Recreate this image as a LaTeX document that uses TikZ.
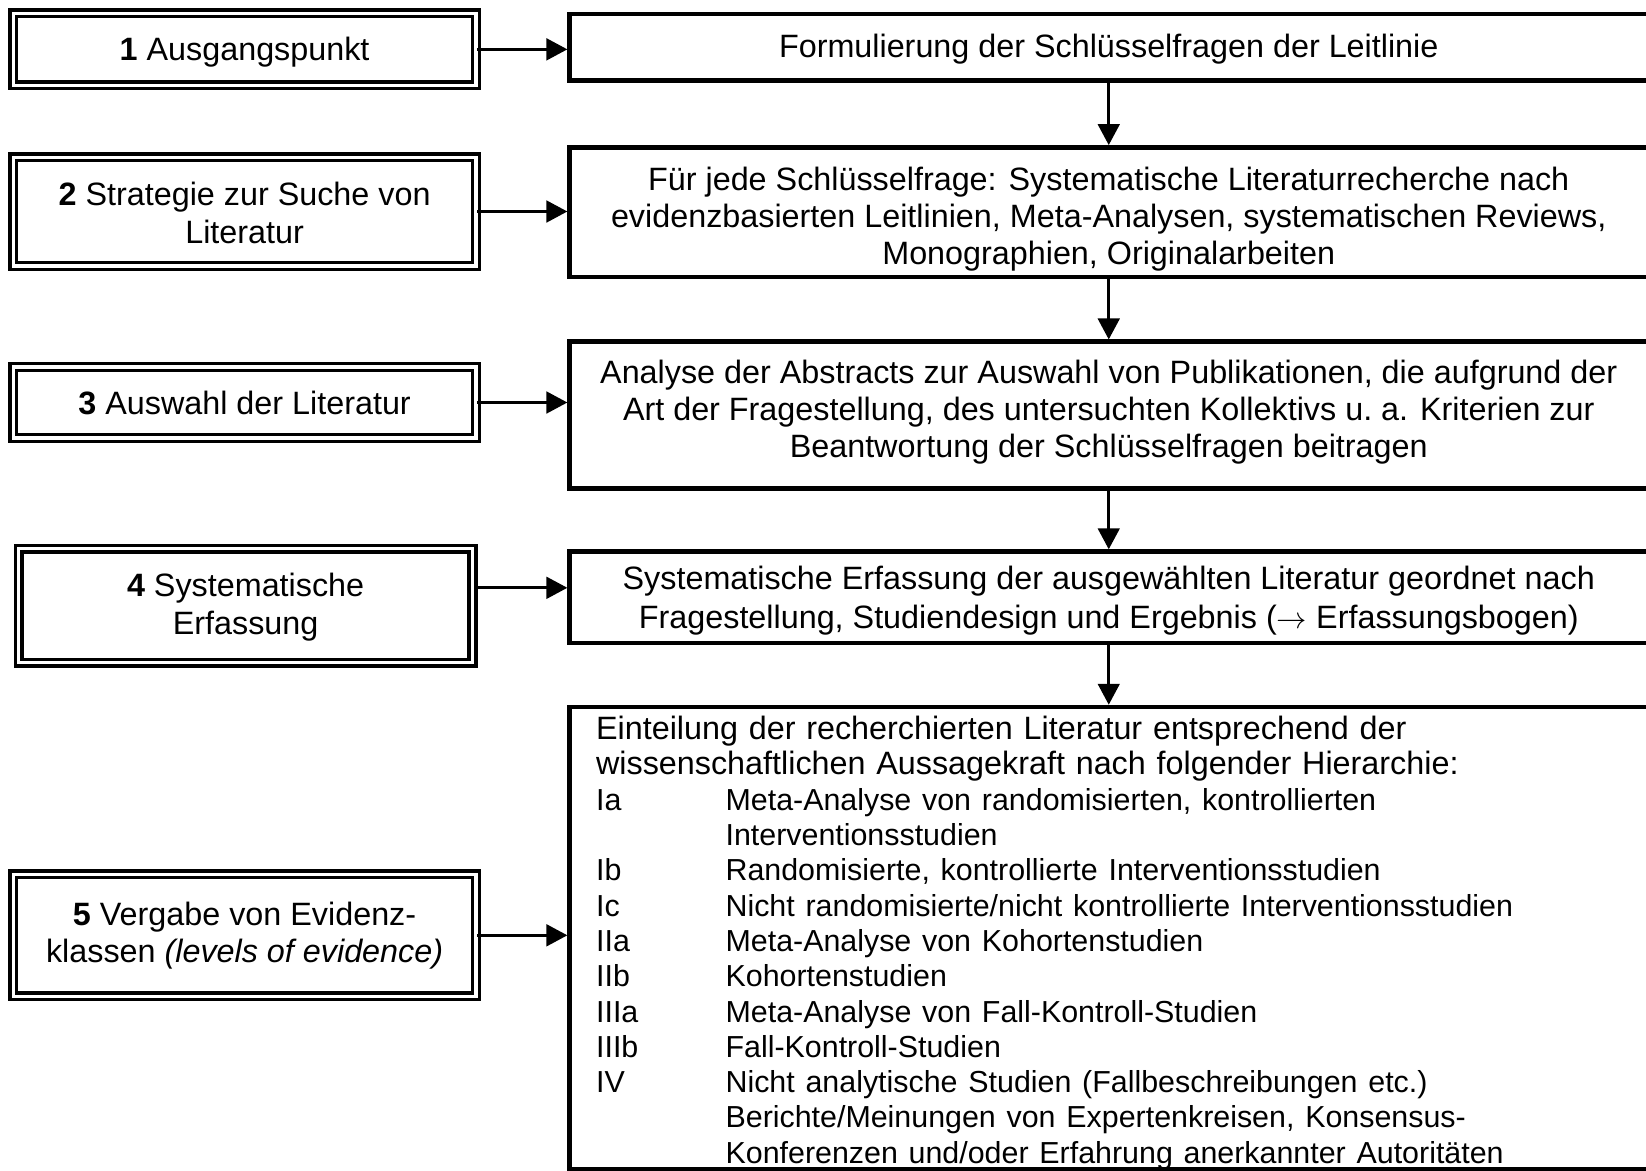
\documentclass[tikz,border=0pt]{standalone}
\usepackage{fontspec}
\setmainfont{Liberation Sans}
\usetikzlibrary{arrows.meta}

\newcommand{\lvl}[2]{\makebox[2.59cm][l]{#1}#2}
\newcommand{\oben}[1]{\rule{0pt}{#1}}
\newcommand{\unten}[1]{\rule[-#1]{0pt}{#1}}
\newcommand{\klein}{\fontsize{17.3}{20.1}\selectfont}

\begin{document}
\begin{tikzpicture}[x=0.02cm,y=-0.02cm,
    font=\fontsize{18.4}{21}\selectfont,
    stufe/.style={draw,line width=1.9pt,double,double distance=2pt,inner sep=0pt,
        align=center,minimum width=9.25cm},
    schritt/.style={draw,line width=2.5pt,inner sep=0pt,align=center,minimum width=21.57cm},
    pfeil/.style={-{Triangle[length=0.42cm,width=0.43cm]},line width=1.9pt}]
    \useasboundingbox (0,0) rectangle (1646,1170);

    % Arbeitsschritte links
    \node[stufe,minimum height=1.44cm] (b1) at (244.6,49.35) {\oben{17pt}\textbf{1} Ausgangspunkt};
    \node[stufe,minimum height=2.17cm,font=\fontsize{18.4}{21.5}\selectfont] (b2) at (244.6,211.5)
        {\oben{15.2pt}\textbf{2} Strategie zur Suche von\\Literatur};
    \node[stufe,minimum height=1.42cm] (b3) at (244.6,402.5) {\textbf{3} Auswahl der Literatur};
    \node[stufe,minimum width=9.08cm,minimum height=2.28cm,font=\fontsize{18.4}{21.5}\selectfont] (b4) at (245.6,605.6)
        {\oben{15.2pt}\textbf{4} Systematische\\Erfassung};
    \node[stufe,minimum height=2.44cm] (b5) at (244.6,935.3) {\textbf{5} Vergabe von Evidenz-\\klassen \textit{(levels of evidence)}};

    % Inhalte rechts
    \node[schritt,minimum height=1.33cm] (r1) at (1108.75,47.25) {\oben{15.8pt}Formulierung der Schlüsselfragen der Leitlinie};
    \node[schritt,minimum height=2.59cm,font=\fontsize{18.4}{20.8}\selectfont] (r2) at (1108.75,212.05)
        {\oben{21.4pt}Für jede Schlüsselfrage: Systematische Literaturrecherche nach\\evidenzbasierten Leitlinien, Meta-Analysen, systematischen Reviews,\\Monographien, Originalarbeiten};
    \node[schritt,minimum height=2.94cm] (r3) at (1108.75,415.15)
        {Analyse der Abstracts zur Auswahl von Publikationen, die aufgrund der\\Art der Fragestellung, des untersuchten Kollektivs u.~a. Kriterien zur\\Beantwortung der Schlüsselfragen beitragen\unten{6.9pt}};
    \node[schritt,minimum height=1.83cm,font=\fontsize{18.4}{22.1}\selectfont] (r4) at (1108.75,597.25)
        {\oben{17pt}Systematische Erfassung der ausgewählten Literatur geordnet nach\\Fragestellung, Studiendesign und Ergebnis ($\rightarrow$ Erfassungsbogen)};
    \node[schritt,minimum height=9.252cm,align=left,text width=20.51cm,
        font=\fontsize{18.4}{20.1}\selectfont] (r5) at (1108.75,938.2)
        {\oben{15pt}Einteilung der recherchierten Literatur entsprechend der\\
        wissenschaftlichen Aussagekraft nach folgender Hierarchie:\\
        \klein\lvl{Ia}{Meta-Analyse von randomisierten, kontrollierten}\\
        \klein\lvl{}{Interventionsstudien}\\
        \klein\lvl{Ib}{Randomisierte, kontrollierte Interventionsstudien}\\
        \klein\lvl{Ic}{Nicht randomisierte/nicht kontrollierte Interventionsstudien}\\
        \klein\lvl{IIa}{Meta-Analyse von Kohortenstudien}\\
        \klein\lvl{IIb}{Kohortenstudien}\\
        \klein\lvl{IIIa}{Meta-Analyse von Fall-Kontroll-Studien}\\
        \klein\lvl{IIIb}{Fall-Kontroll-Studien}\\
        \klein\lvl{IV}{Nicht analytische Studien (Fallbeschreibungen etc.)}\\
        \klein\lvl{}{Berichte/Meinungen von Expertenkreisen, Konsensus-}\\
        \klein\lvl{}{\raisebox{0pt}[\height][0pt]{Konferenzen und/oder Erfahrung anerkannter Autoritäten}}};

    \draw[pfeil] (b1.east) -- (b1.east -| r1.west);
    \draw[pfeil] (b2.east) -- (b2.east -| r2.west);
    \draw[pfeil] (b3.east) -- (b3.east -| r3.west);
    \coordinate (s4) at ([yshift=0.356cm]b4.east);
    \draw[pfeil] (s4) -- (s4 -| r4.west);
    \draw[pfeil] (b5.east) -- (b5.east -| r5.west);
    \foreach \a/\b in {r1/r2,r2/r3,r3/r4,r4/r5}
        \draw[pfeil] (\a.south) -- (\b.north);
\end{tikzpicture}
\end{document}
